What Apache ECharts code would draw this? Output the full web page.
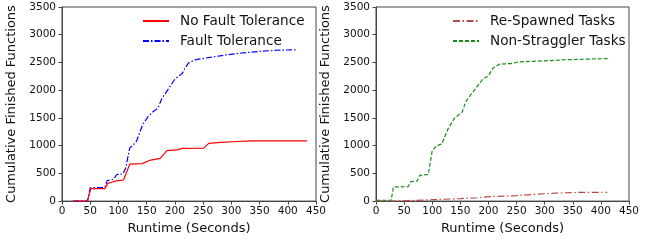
<!DOCTYPE html>
<html>
<head>
<meta charset="utf-8">
<script src="https://cdn.jsdelivr.net/npm/echarts@6/dist/echarts.min.js"></script>
<style>
  html, body { margin: 0; padding: 0; background: #fff; }
  #main { width: 652px; height: 240px; }
</style>
</head>
<body>
<div id="main"></div>
<script>
  // left panel
  const noFtTime = [20, 45, 51, 76, 81, 88, 94, 109, 120, 142, 157, 174, 186, 204, 213, 251, 260, 281, 311, 334, 434];
  const noFtVals = [0, 0, 225, 225, 320, 340, 360, 380, 665, 675, 740, 770, 910, 925, 950, 955, 1040, 1060, 1075, 1085, 1085];
  const ftTime = [20, 45, 50, 70, 76, 80, 87, 92, 97, 108, 113, 120, 125, 132, 143, 153, 160, 170, 177, 187, 200, 213, 218, 225, 237, 255, 280, 310, 350, 380, 416];
  const ftVals = [0, 0, 240, 245, 250, 370, 380, 400, 480, 490, 600, 960, 1000, 1080, 1380, 1530, 1600, 1680, 1850, 2000, 2200, 2300, 2400, 2500, 2550, 2580, 2620, 2660, 2700, 2720, 2730];

  // right panel
  const respTime = [0, 30, 60, 100, 150, 180, 200, 250, 280, 320, 350, 412];
  const respVals = [0, 0, 10, 25, 45, 60, 80, 100, 120, 145, 155, 160];
  const nonStrTime = [0, 27, 31, 57, 62, 73, 78, 93, 100, 108, 117, 128, 140, 153, 160, 175, 190, 200, 208, 220, 240, 255, 300, 340, 412];
  const nonStrVals = [15, 15, 255, 260, 350, 360, 465, 480, 910, 1000, 1030, 1300, 1500, 1600, 1800, 2000, 2200, 2260, 2400, 2470, 2480, 2510, 2530, 2550, 2570];

  const xTicks = { min: 0, max: 450, interval: 50 };
  const yTicks = { min: 0, max: 3500, interval: 500 };

  const zip = (xs, ys) => xs.map((x, i) => [x, ys[i]]);

  const font = 'DejaVu Sans';
  const spine = '#444';
  const ink = '#111';

  function xAxis(gridIndex) {
    return {
      type: 'value', gridIndex, ...xTicks,
      name: 'Runtime (Seconds)', nameLocation: 'middle', nameGap: 18,
      nameTextStyle: { fontFamily: font, fontSize: 13, color: ink },
      axisLine: { onZero: false, lineStyle: { color: spine, width: 1 } },
      axisTick: { inside: false, length: 3.5, lineStyle: { color: spine } },
      axisLabel: { fontFamily: font, fontSize: 10.5, color: ink, margin: 5, formatter: v => String(v) },
      splitLine: { show: false }
    };
  }
  function yAxis(gridIndex) {
    return {
      type: 'value', gridIndex, ...yTicks,
      name: 'Cumulative Finished Functions', nameLocation: 'middle', nameGap: 44,
      nameTextStyle: { fontFamily: font, fontSize: 13, color: ink },
      axisLine: { show: true, lineStyle: { color: spine, width: 1 } },
      axisTick: { show: true, inside: false, length: 3.5, lineStyle: { color: spine } },
      axisLabel: { fontFamily: font, fontSize: 10.5, color: ink, margin: 6, formatter: v => String(v) },
      splitLine: { show: false }
    };
  }

  function line(name, xs, ys, idx, color, type) {
    return {
      name, type: 'line', xAxisIndex: idx, yAxisIndex: idx,
      data: zip(xs, ys), symbol: 'none', smooth: false,
      lineStyle: { color, width: 1.2, type },
      itemStyle: { color }
    };
  }

  const legendBase = {
    orient: 'vertical', itemWidth: 26, itemHeight: 14, itemGap: 6, top: 14, padding: 0,
    itemStyle: { opacity: 0 },
    textStyle: { fontFamily: font, fontSize: 13.6, color: ink, padding: [0, 0, 0, 6] }
  };

  const chart = echarts.init(document.getElementById('main'), null, { renderer: 'canvas' });
  chart.setOption({
    animation: false,
    backgroundColor: '#fff',
    grid: [
      { left: 62, top: 7, width: 254, height: 198, show: true, borderColor: spine, borderWidth: 1 },
      { left: 376, top: 7, width: 253, height: 198, show: true, borderColor: spine, borderWidth: 1 }
    ],
    xAxis: [xAxis(0), xAxis(1)],
    yAxis: [yAxis(0), yAxis(1)],
    legend: [
      { ...legendBase, left: 142, data: ['No Fault Tolerance', 'Fault Tolerance'] },
      { ...legendBase, left: 452, data: ['Re-Spawned Tasks', 'Non-Straggler Tasks'] }
    ],
    series: [
      line('Fault Tolerance', ftTime, ftVals, 0, '#0000ff', [6, 2, 1.5, 2]),
      line('No Fault Tolerance', noFtTime, noFtVals, 0, '#ff0000', 'solid'),
      line('Re-Spawned Tasks', respTime, respVals, 1, '#b84a4a', [7, 2.5, 1.5, 2.5]),
      line('Non-Straggler Tasks', nonStrTime, nonStrVals, 1, '#1a8a1a', [4, 2])
    ]
  });
</script>
</body>
</html>
